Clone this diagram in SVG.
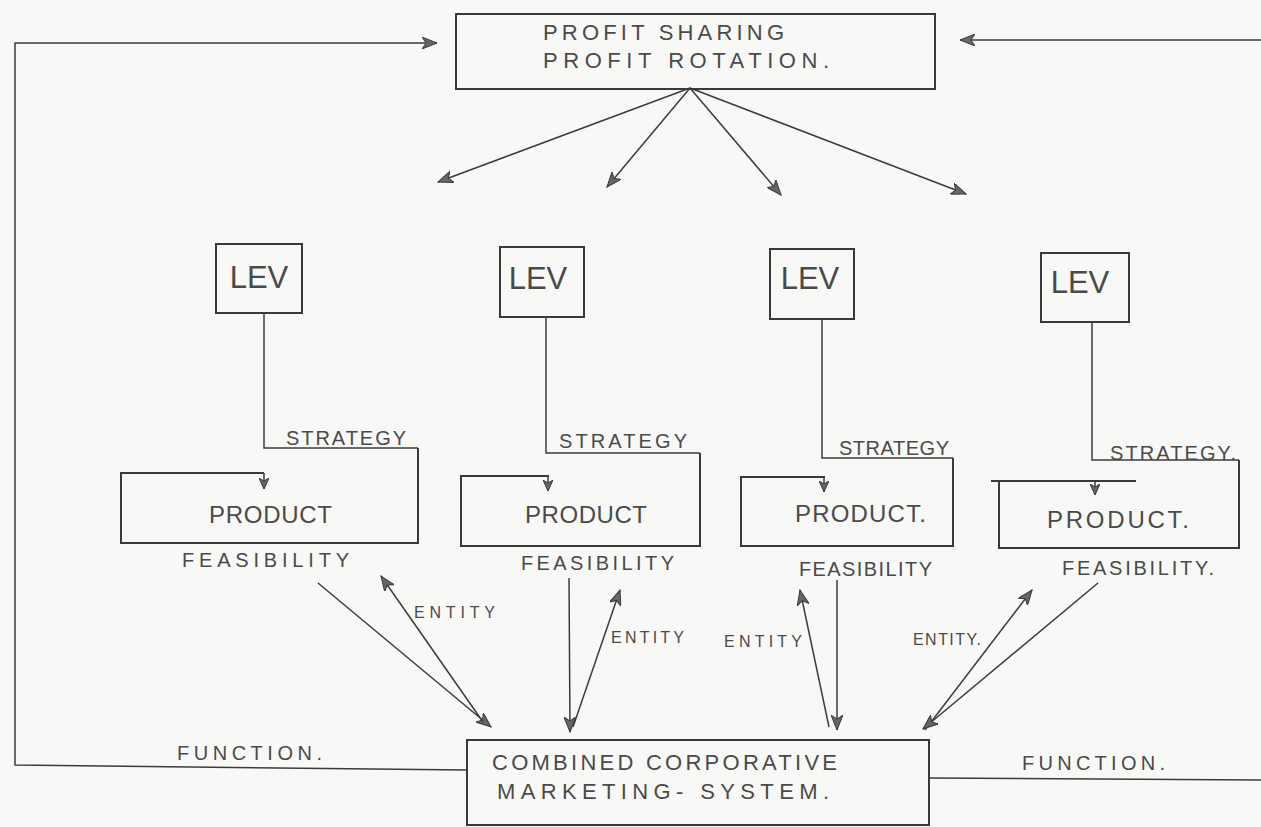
<svg xmlns="http://www.w3.org/2000/svg" width="1261" height="827" viewBox="0 0 1261 827">
<defs>
<style>
.bg{fill:#f8f8f6}
.box{fill:none;stroke:#3a3a3a;stroke-width:2}
.ln{fill:none;stroke:#3c3c3c;stroke-width:1.5}
.t{font-family:"Liberation Sans",Arial,sans-serif;fill:#4a4a4a}
.big{font-size:31px}
.prod{font-size:24px}
.lab{font-size:20px}
.sm{font-size:16px}
.ttl{font-size:22px}
</style>
<marker id="ah" viewBox="0 0 16 12" markerWidth="16" markerHeight="12" refX="15" refY="6" orient="auto" markerUnits="userSpaceOnUse">
<path d="M0,0 L15,6 L0,12 L4,6 z" fill="#666" stroke="#3a3a3a" stroke-width="1"/>
</marker>
<marker id="ahs" viewBox="0 0 12 10" markerWidth="12" markerHeight="10" refX="11" refY="5" orient="auto" markerUnits="userSpaceOnUse">
<path d="M0,0 L11,5 L0,10 L3,5 z" fill="#666" stroke="#3a3a3a" stroke-width="1"/>
</marker>
</defs>
<rect class="bg" x="0" y="0" width="1261" height="827"/>

<g id="connectors">
<path class="ln" d="M467,770 L15,765 L15,43 L437,43" marker-end="url(#ah)"/>
<path class="ln" d="M929,778 L1261,780"/>
<path class="ln" d="M1261,40 L960,40" marker-end="url(#ah)"/>
<path class="ln" d="M690,88 L438,182" marker-end="url(#ah)"/>
<path class="ln" d="M690,88 L607,187" marker-end="url(#ah)"/>
<path class="ln" d="M690,88 L781,195" marker-end="url(#ah)"/>
<path class="ln" d="M690,88 L966,194" marker-end="url(#ah)"/>
<path class="ln" d="M264,313 V448 H418"/>
<path class="ln" d="M546,317 V453 H700"/>
<path class="ln" d="M822,319 V458 H953"/>
<path class="ln" d="M1092,322 V460 H1239"/>
<path class="ln" d="M264,473 V489" marker-end="url(#ahs)"/>
<path class="ln" d="M548,476 V491" marker-end="url(#ahs)"/>
<path class="ln" d="M824,477 V492" marker-end="url(#ahs)"/>
<path class="ln" d="M1095,481 V495" marker-end="url(#ahs)"/>
<path class="ln" d="M318,583 L491,727" marker-end="url(#ah)"/>
<path class="ln" d="M483,722 L381,576" marker-end="url(#ah)"/>
<path class="ln" d="M569,578 L570,732" marker-end="url(#ah)"/>
<path class="ln" d="M573,727 L620,590" marker-end="url(#ah)"/>
<path class="ln" d="M829,727 L800,590" marker-end="url(#ah)"/>
<path class="ln" d="M837,580 L837,730" marker-end="url(#ah)"/>
<path class="ln" d="M925,730 L1032,590" marker-end="url(#ah)"/>
<path class="ln" d="M1098,583 L923,729" marker-end="url(#ah)"/>
<text class="t sm" x="414" y="618" textLength="81">ENTITY</text>
<text class="t sm" x="611" y="643" textLength="73">ENTITY</text>
<text class="t sm" x="724" y="647" textLength="78">ENTITY</text>
<text class="t sm" x="913" y="645" textLength="68">ENTITY.</text>
<text class="t lab" x="177" y="760" textLength="145">FUNCTION.</text>
<text class="t lab" x="1022" y="770" textLength="143">FUNCTION.</text>
</g>

<g id="profit-box">
<rect class="box" x="456" y="14" width="479" height="75"/>
<text class="t ttl" x="543" y="40" textLength="241">PROFIT SHARING</text>
<text class="t ttl" x="543" y="68" textLength="286">PROFIT ROTATION.</text>
</g>

<g id="lev1">
<rect class="box" x="216" y="244" width="86" height="69"/>
<text class="t big" x="259" y="288" text-anchor="middle">LEV</text>
</g>
<g id="lev2">
<rect class="box" x="500" y="247" width="84" height="70"/>
<text class="t big" x="538" y="289" text-anchor="middle">LEV</text>
</g>
<g id="lev3">
<rect class="box" x="770" y="249" width="84" height="70"/>
<text class="t big" x="810" y="289" text-anchor="middle">LEV</text>
</g>
<g id="lev4">
<rect class="box" x="1041" y="253" width="88" height="69"/>
<text class="t big" x="1080" y="293" text-anchor="middle">LEV</text>
</g>

<g id="product1">
<path class="box" d="M264,473 H121 V543 H418 V448"/>
<text class="t lab" x="286" y="445" textLength="120">STRATEGY</text>
<text class="t prod" x="209" y="523" textLength="123">PRODUCT</text>
<text class="t lab" x="182" y="567" textLength="167">FEASIBILITY</text>
</g>
<g id="product2">
<path class="box" d="M549,476 H461 V546 H700 V453"/>
<text class="t lab" x="559" y="448" textLength="128">STRATEGY</text>
<text class="t prod" x="525" y="523" textLength="122">PRODUCT</text>
<text class="t lab" x="521" y="570" textLength="153">FEASIBILITY</text>
</g>
<g id="product3">
<path class="box" d="M825,477 H741 V546 H953 V458"/>
<text class="t lab" x="839" y="455" textLength="110">STRATEGY</text>
<text class="t prod" x="795" y="522" textLength="131">PRODUCT.</text>
<text class="t lab" x="799" y="576" textLength="133">FEASIBILITY</text>
</g>
<g id="product4">
<path class="box" d="M1136,481 H991 M999,481 V548 H1239 V460"/>
<text class="t lab" x="1110" y="460" textLength="126">STRATEGY.</text>
<text class="t prod" x="1047" y="528" textLength="142">PRODUCT.</text>
<text class="t lab" x="1062" y="575" textLength="152">FEASIBILITY.</text>
</g>

<g id="marketing-box">
<rect class="box" x="467" y="740" width="462" height="85"/>
<text class="t ttl" x="492" y="770" textLength="345">COMBINED CORPORATIVE</text>
<text class="t ttl" x="497" y="799" textLength="332">MARKETING- SYSTEM.</text>
</g>
</svg>
